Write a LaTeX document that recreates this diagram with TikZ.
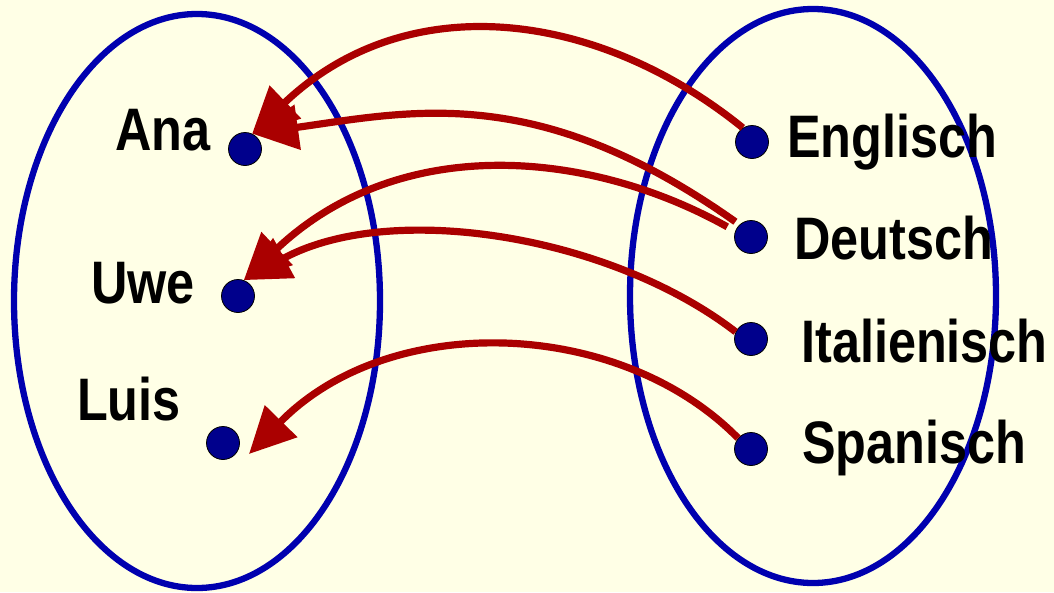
\documentclass[tikz,border=0pt]{standalone}
\usepackage{fontspec}
\newfontfamily\labfont{Liberation Sans}[FakeStretch=0.84]
\usetikzlibrary{arrows.meta}
\definecolor{bg}{RGB}{255,255,230}
\definecolor{setblue}{RGB}{0,0,175}
\definecolor{dotblue}{RGB}{0,0,140}
\definecolor{mapred}{RGB}{170,0,0}
\begin{document}
\begin{tikzpicture}[x=1pt,y=-1pt,
  setline/.style={draw=setblue, line width=6.3pt},
  elem/.style={circle, fill=dotblue, draw=black, line width=0.8pt, minimum size=33pt, inner sep=0pt},
  lab/.style={anchor=base west, inner sep=0pt, font=\labfont\bfseries\fontsize{60}{60}\selectfont, text=black},
  maparrow/.style={draw=mapred, line width=7.2pt, -{Triangle[length=46pt,width=44pt]}}]
\fill[bg] (0,0) rectangle (1054,592);
\useasboundingbox (0,0) rectangle (1054,592);
% sets
\draw[setline] (197,301) ellipse [x radius=183pt, y radius=287pt];
\draw[setline] (813,296) ellipse [x radius=183pt, y radius=287pt];
% labels
\node[lab] (ta) at (115,150) {Ana};
\node[lab] (tu) at (91,303) {Uwe};
\node[lab] (tl) at (77,420) {Luis};
\node[lab] (te) at (787,157) {Englisch};
\node[lab] (td) at (794,259) {Deutsch};
\node[lab] (ti) at (801,362) {Italienisch};
\node[lab] (ts) at (802,463) {Spanisch};
% elements
\node[elem] (a) at (245,149) {};
\node[elem] (u) at (238,296) {};
\node[elem] (l) at (223,443) {};
\node[elem] (e) at (752,142) {};
\node[elem] (d) at (751,237) {};
\node[elem] (i) at (751,339) {};
\node[elem] (s) at (751,449) {};
\coordinate (lt) at (249,454);
% mapping
\draw[maparrow] (e.123) .. controls (596,9) and (406,-13) .. (a.65);
\draw[maparrow, shorten <=5pt] (d.133) .. controls (538,82) and (413,111) .. (a.65);
\draw[maparrow, shorten <=9pt] (d.160) .. controls (590,150) and (400,132) .. (u.70);
\draw[maparrow] (i.155) .. controls (610,235) and (390,200) .. (u.70);
\draw[maparrow] (s.140) .. controls (620,318) and (390,310) .. (lt);
\end{tikzpicture}
\end{document}
